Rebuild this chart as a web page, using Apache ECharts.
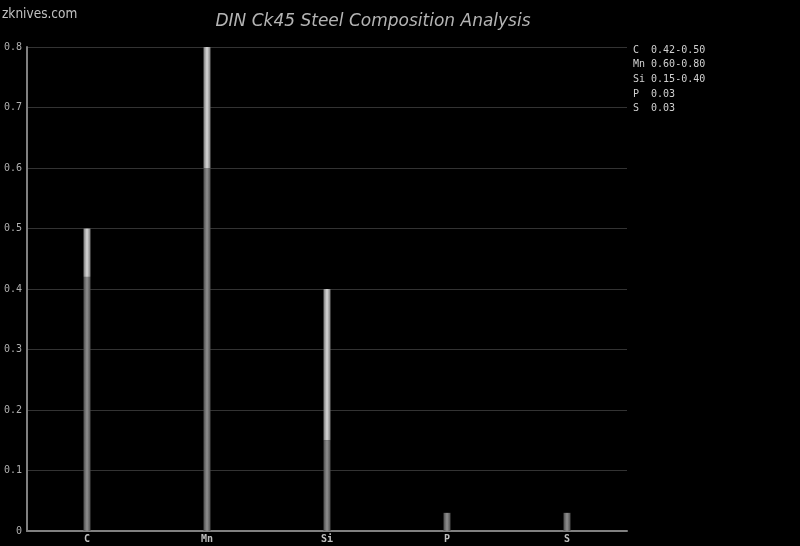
<!DOCTYPE html>
<html>
<head>
<meta charset="utf-8">
<script src="https://cdn.jsdelivr.net/npm/echarts@6/dist/echarts.min.js"></script>
<style>
  html, body { margin: 0; padding: 0; background: #000; }
  #chart { width: 800px; height: 546px; }
</style>
</head>
<body>
<div id="chart"></div>
<script>
const elements = ['C', 'Mn', 'Si', 'P', 'S'];
const minVals = [0.42, 0.60, 0.15, 0.03, 0.03];
const maxVals = [0.50, 0.80, 0.40, 0.03, 0.03];
const yTicks = [0, 0.1, 0.2, 0.3, 0.4, 0.5, 0.6, 0.7, 0.8];

// range part sits on top of the minimum
const rangeVals = maxVals.map((v, i) => +(v - minVals[i]).toFixed(2));

// legend lines: "C  0.42-0.50"
const legendLines = elements.map((e, i) => {
  const name = (e + '  ').slice(0, 3);
  const txt = minVals[i] === maxVals[i]
    ? minVals[i].toFixed(2)
    : minVals[i].toFixed(2) + '-' + maxVals[i].toFixed(2);
  return name + txt;
});

function grad(edge, mid) {
  return new echarts.graphic.LinearGradient(0, 0, 1, 0, [
    {offset: 0, color: edge},
    {offset: 0.5, color: mid},
    {offset: 1, color: edge}
  ]);
}

const myChart = echarts.init(document.getElementById('chart'));
myChart.setOption({
  backgroundColor: '#000',
  animation: false,
  title: {
    text: 'DIN Ck45 Steel Composition Analysis',
    left: 368,
    textAlign: 'center',
    top: 8,
    textStyle: {
      color: '#b4b4b4',
      fontFamily: 'DejaVu Sans',
      fontStyle: 'italic',
      fontWeight: 'normal',
      fontSize: 17
    }
  },
  graphic: [
    {
      type: 'text',
      left: 2,
      top: 7,
      style: {text: 'zknives.com', fill: '#c0c0c0', font: '13.5px "DejaVu Sans Condensed"'}
    },
    {
      type: 'text',
      left: 633,
      top: 43,
      style: {
        text: legendLines.join('\n'),
        fill: '#d0d0d0',
        font: '10px "DejaVu Sans Mono"',
        lineHeight: 14.6
      }
    }
  ],
  grid: {left: 27, right: 173, top: 47, bottom: 15},
  xAxis: {
    type: 'category',
    data: elements,
    axisLine: {lineStyle: {color: '#808080', width: 2}},
    axisTick: {show: false},
    axisLabel: {color: '#c0c0c0', fontFamily: 'DejaVu Sans Mono', fontWeight: 'bold', fontSize: 10, margin: 3},
    splitLine: {show: false}
  },
  yAxis: {
    type: 'value',
    min: 0,
    max: 0.8,
    interval: 0.1,
    axisLine: {show: true, lineStyle: {color: '#808080', width: 2}},
    axisTick: {show: false},
    axisLabel: {
      color: '#b0b0b0',
      fontFamily: 'DejaVu Sans Mono',
      fontSize: 10,
      margin: 5,
      formatter: v => {
        const t = yTicks.find(x => Math.abs(x - v) < 1e-9);
        return t === 0 ? '0' : String(t);
      }
    },
    splitLine: {lineStyle: {color: '#333', width: 1}}
  },
  series: [
    {
      type: 'bar',
      stack: 'comp',
      barWidth: 7,
      data: minVals,
      itemStyle: {color: grad('#4e4e4e', '#909090')}
    },
    {
      type: 'bar',
      stack: 'comp',
      barWidth: 7,
      data: rangeVals,
      itemStyle: {color: grad('#7a7a7a', '#d8d8d8')}
    }
  ]
});
window.addEventListener('resize', () => myChart.resize());
</script>
</body>
</html>
